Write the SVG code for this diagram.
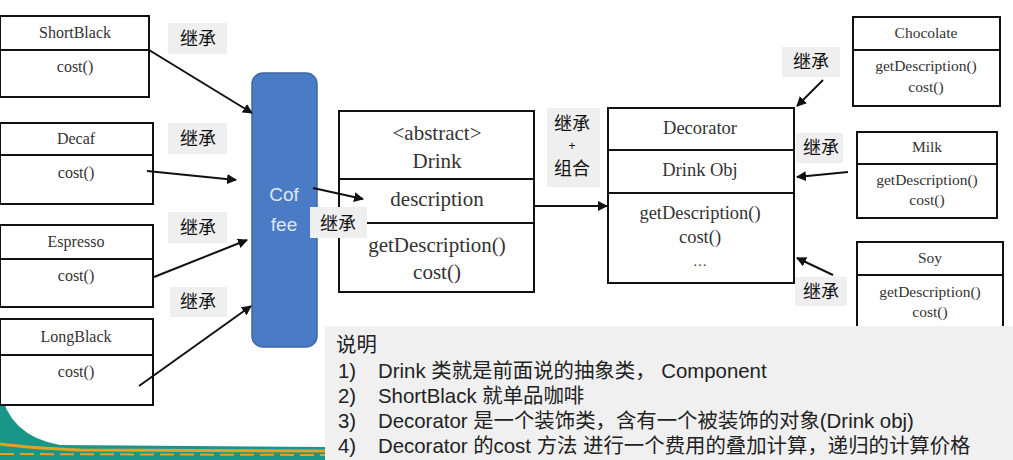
<svg xmlns="http://www.w3.org/2000/svg" width="1013" height="460" viewBox="0 0 1013 460">
<defs>
<style>
.box{fill:#fff;stroke:#111;stroke-width:2}
.ln{stroke:#111;stroke-width:2;fill:none}
.t{font-family:"Liberation Serif","Times New Roman",serif;fill:#333;text-anchor:middle}
.s14{font-size:14px}
.s15{font-size:15.5px}
.s16{font-size:16px}
.s18{font-size:18.5px}
.s21{font-size:21px}
.lbg{fill:#efefef}
.lb{font-family:"Noto Sans CJK SC","Noto Sans",sans-serif;font-size:18px;fill:#111;text-anchor:middle}
.note{font-family:"Liberation Sans","Noto Sans CJK SC",sans-serif;font-size:20.4px;fill:#222}
.con{stroke:#111;stroke-width:2;fill:none;marker-end:url(#ah)}
</style>
<marker id="ah" viewBox="0 0 10 10" refX="9" refY="5" markerWidth="5" markerHeight="5" orient="auto" markerUnits="strokeWidth">
<path d="M0,0 L10,5 L0,10 Z" fill="#111"/>
</marker>
</defs>
<rect width="1013" height="460" fill="#fff"/>
<!-- background decoration -->
<g id="decor">
<path d="M0,388 Q8,436 60,445 L325,447 L325,460 L0,460 Z" fill="#1a9688"/>
<path d="M0,444 Q30,448 80,450 L325,451" stroke="#e8a020" stroke-width="3" fill="none"/>
<path d="M0,454 L325,455" stroke="#e8a020" stroke-width="2" fill="none" stroke-dasharray="14 6"/>
</g>
<!-- left boxes -->
<g id="shortblack">
<rect class="box" x="0" y="16" width="149" height="81"/>
<line class="ln" x1="0" y1="50" x2="149" y2="50"/>
<text class="t s16" x="75" y="38">ShortBlack</text>
<text class="t s16" x="75" y="72">cost()</text>
</g>
<g id="decaf">
<rect class="box" x="0" y="123" width="153" height="81"/>
<line class="ln" x1="0" y1="155" x2="153" y2="155"/>
<text class="t s16" x="76" y="144">Decaf</text>
<text class="t s16" x="76" y="178">cost()</text>
</g>
<g id="espresso">
<rect class="box" x="0" y="225" width="153" height="82"/>
<line class="ln" x1="0" y1="259" x2="153" y2="259"/>
<text class="t s16" x="76" y="247">Espresso</text>
<text class="t s16" x="76" y="281">cost()</text>
</g>
<g id="longblack">
<rect class="box" x="0" y="319" width="153" height="86"/>
<line class="ln" x1="0" y1="355" x2="153" y2="355"/>
<text class="t s16" x="76" y="342">LongBlack</text>
<text class="t s16" x="76" y="377">cost()</text>
</g>
<!-- coffee -->
<g id="coffee">
<rect x="252" y="73" width="65" height="274" rx="11" fill="#4a7bc4" stroke="#3d68a8" stroke-width="1.5"/>
<text x="284" y="201" font-family="Liberation Sans,Noto Sans,sans-serif" font-size="19" fill="#dfe8f6" text-anchor="middle">Cof</text>
<text x="284" y="231" font-family="Liberation Sans,Noto Sans,sans-serif" font-size="19" fill="#dfe8f6" text-anchor="middle">fee</text>
</g>
<!-- drink -->
<g id="drink">
<rect class="box" x="339" y="111" width="195" height="181"/>
<line class="ln" x1="339" y1="179" x2="534" y2="179"/>
<line class="ln" x1="339" y1="223" x2="534" y2="223"/>
<text class="t s21" x="437" y="140">&lt;abstract&gt;</text>
<text class="t s21" x="437" y="168">Drink</text>
<text class="t s21" x="437" y="206">description</text>
<text class="t s21" x="437" y="252">getDescription()</text>
<text class="t s21" x="437" y="279">cost()</text>
</g>
<!-- decorator -->
<g id="decorator">
<rect class="box" x="608" y="108" width="186" height="175"/>
<line class="ln" x1="608" y1="150" x2="794" y2="150"/>
<line class="ln" x1="608" y1="193" x2="794" y2="193"/>
<text class="t s18" x="700" y="134">Decorator</text>
<text class="t s18" x="700" y="176">Drink Obj</text>
<text class="t s18" x="700" y="219">getDescription()</text>
<text class="t s18" x="700" y="243">cost()</text>
<text class="t s14" x="700" y="266">…</text>
</g>
<!-- right boxes -->
<g id="chocolate">
<rect class="box" x="853" y="17" width="147" height="89"/>
<line class="ln" x1="853" y1="50" x2="1000" y2="50"/>
<text class="t s15" x="926" y="38">Chocolate</text>
<text class="t s15" x="926" y="71">getDescription()</text>
<text class="t s15" x="926" y="92">cost()</text>
</g>
<g id="milk">
<rect class="box" x="857" y="132" width="140" height="86"/>
<line class="ln" x1="857" y1="164" x2="997" y2="164"/>
<text class="t s15" x="927" y="152">Milk</text>
<text class="t s15" x="927" y="185">getDescription()</text>
<text class="t s15" x="927" y="205">cost()</text>
</g>
<g id="soy">
<rect class="box" x="857" y="242" width="146" height="100"/>
<line class="ln" x1="857" y1="275" x2="1003" y2="275"/>
<text class="t s15" x="930" y="263">Soy</text>
<text class="t s15" x="930" y="297">getDescription()</text>
<text class="t s15" x="930" y="317">cost()</text>
</g>
<!-- connectors -->
<g id="connectors">
<line class="con" x1="149" y1="50" x2="252" y2="113"/>
<line class="con" x1="147" y1="171" x2="236" y2="180"/>
<line class="con" x1="154" y1="277" x2="247" y2="240"/>
<line class="con" x1="139" y1="386" x2="251" y2="306"/>
<line class="con" x1="313" y1="188" x2="363" y2="199"/>
<line class="con" x1="534" y1="206" x2="607" y2="206"/>
<line class="con" x1="823" y1="80" x2="797" y2="106"/>
<line class="con" x1="848" y1="172" x2="797" y2="177"/>
<line class="con" x1="833" y1="275" x2="797" y2="258"/>
</g>
<!-- labels -->
<g id="labels">
<rect class="lbg" x="168" y="23" width="59" height="31"/>
<text class="lb" x="198" y="45">继承</text>
<rect class="lbg" x="168" y="123" width="59" height="31"/>
<text class="lb" x="198" y="145">继承</text>
<rect class="lbg" x="168" y="212" width="59" height="31"/>
<text class="lb" x="198" y="234">继承</text>
<rect class="lbg" x="170" y="287" width="57" height="30"/>
<text class="lb" x="198" y="308">继承</text>
<rect class="lbg" x="310" y="207" width="57" height="31"/>
<text class="lb" x="338" y="230">继承</text>
<rect class="lbg" x="547" y="108" width="53" height="79"/>
<text class="lb" x="572" y="130">继承</text>
<text x="572" y="150" font-family="Liberation Sans,sans-serif" font-size="12" fill="#111" text-anchor="middle">+</text>
<text class="lb" x="572" y="175">组合</text>
<rect class="lbg" x="782" y="47" width="58" height="30"/>
<text class="lb" x="811" y="68">继承</text>
<rect class="lbg" x="796" y="133" width="47" height="30"/>
<text class="lb" x="821" y="154">继承</text>
<rect class="lbg" x="795" y="277" width="52" height="29"/>
<text class="lb" x="821" y="298">继承</text>
</g>
<!-- note panel -->
<g id="note">
<rect x="325" y="326" width="688" height="134" fill="#f0f0f0"/>
<text class="note" x="336" y="352">说明</text>
<text class="note" x="338" y="378">1)</text>
<text class="note" x="378" y="378">Drink 类就是前面说的抽象类， Component</text>
<text class="note" x="338" y="403">2)</text>
<text class="note" x="378" y="403">ShortBlack 就单品咖啡</text>
<text class="note" x="338" y="428">3)</text>
<text class="note" x="378" y="428">Decorator 是一个装饰类，含有一个被装饰的对象(Drink obj)</text>
<text class="note" x="338" y="453">4)</text>
<text class="note" x="378" y="453">Decorator 的cost 方法 进行一个费用的叠加计算，递归的计算价格</text>
</g>
</svg>
